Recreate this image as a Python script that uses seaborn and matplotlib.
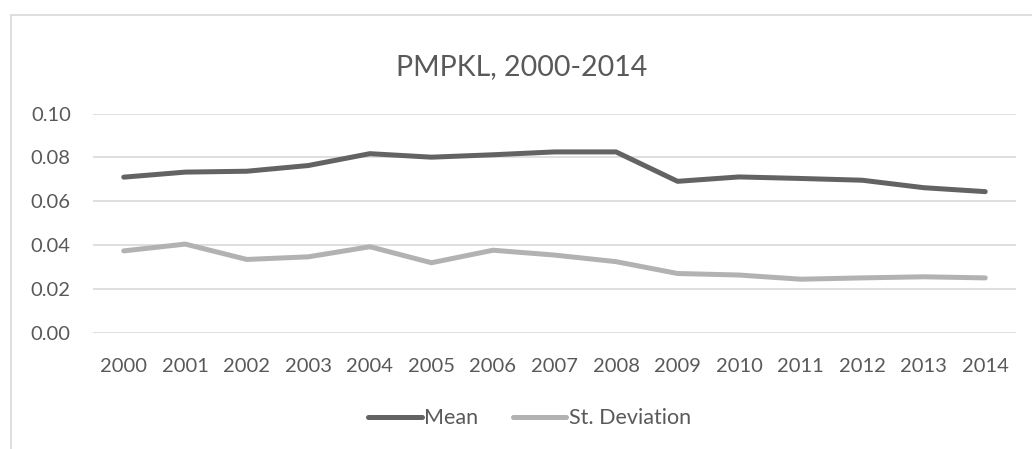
import pandas as pd
import seaborn as sns
import matplotlib.pyplot as plt
from matplotlib.lines import Line2D

years = [str(y) for y in range(2000, 2015)]
mean_vals = [0.0710, 0.0733, 0.0737, 0.0763, 0.0817, 0.0801, 0.0812, 0.0825,
             0.0825, 0.0691, 0.0711, 0.0704, 0.0696, 0.0662, 0.0644]
std_vals = [0.0374, 0.0405, 0.0335, 0.0347, 0.0393, 0.0320, 0.0377, 0.0355,
            0.0325, 0.0271, 0.0264, 0.0245, 0.0251, 0.0256, 0.0251]
series_names = ['Mean', 'St. Deviation']
y_ticks = [0.00, 0.02, 0.04, 0.06, 0.08, 0.10]

df = pd.DataFrame({
    'year': years * 2,
    'value': mean_vals + std_vals,
    'series': [series_names[0]] * len(years) + [series_names[1]] * len(years),
})

sns.set_style('white')
plt.rcParams['font.family'] = ['Lato', 'DejaVu Sans']
text_color = '#595959'

fig = plt.figure(figsize=(10.32, 4.49), dpi=100)
ax = fig.add_axes([0.0901, 0.2584, 0.8944, 0.4888])

sns.lineplot(data=df, x='year', y='value', hue='series', sort=False,
             palette=['#636363', '#b2b2b2'], linewidth=3.6, ax=ax,
             legend=False)
for line in ax.lines:
    line.set_solid_capstyle('round')
    line.set_solid_joinstyle('round')

ax.set_xlim(-0.5, len(years) - 0.5)
ax.set_ylim(0, 0.10)
ax.set_yticks(y_ticks)
ax.set_yticklabels([f'{t:.2f}' for t in y_ticks])
ax.yaxis.grid(True, color='#d9d9d9', linewidth=1.2)
ax.set_axisbelow(True)
for s in ax.spines.values():
    s.set_visible(False)
ax.tick_params(axis='both', length=0, labelsize=14.5, colors=text_color)
ax.tick_params(axis='y', pad=16)
ax.tick_params(axis='x', pad=18)
ax.set_xlabel('')
ax.set_ylabel('')

fig.text(0.505, 0.85, 'PMPKL, 2000-2014', ha='center', va='center',
         fontsize=20.5, color=text_color)

handles = [Line2D([], [], color=c, linewidth=3.6, solid_capstyle='round')
           for c in ['#636363', '#b2b2b2']]
fig.legend(handles, series_names, loc='center', bbox_to_anchor=(0.513, 0.068),
           ncol=2, frameon=False, fontsize=15.5, labelcolor=text_color,
           handlelength=2.5, handletextpad=0.1, columnspacing=1.6)

# chart border (cut at right/bottom like the source)
fig.add_artist(Line2D([11 / 1032, 11 / 1032], [0, 1 - 15 / 449],
                      transform=fig.transFigure, color='#d9d9d9', linewidth=1.2))
fig.add_artist(Line2D([11 / 1032, 1], [1 - 15 / 449, 1 - 15 / 449],
                      transform=fig.transFigure, color='#d9d9d9', linewidth=1.2))

fig.savefig('out.png', dpi=100)
